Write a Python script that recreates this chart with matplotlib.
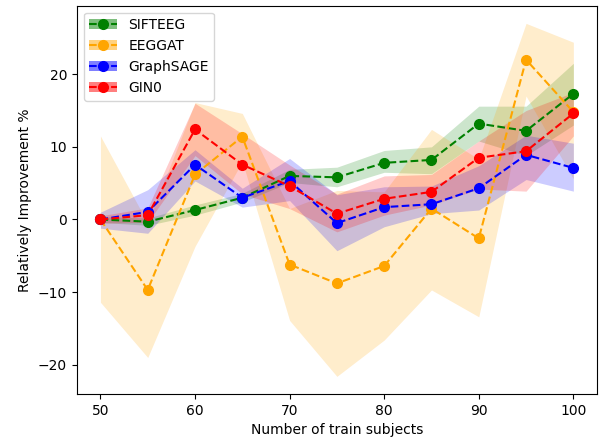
import matplotlib
matplotlib.use('Agg')
import matplotlib.pyplot as plt
from matplotlib.lines import Line2D
from matplotlib.patches import Patch

subjects = [50, 55, 60, 65, 70, 75, 80, 85, 90, 95, 100]

models = ['SIFTEEG', 'EEGGAT', 'GraphSAGE', 'GIN0']
colors = ['green', 'orange', 'blue', 'red']

sifteeg_mean = [0, -0.3, 1.3, 3.0, 6.0, 5.8, 7.8, 8.2, 13.2, 12.2, 17.3]
sifteeg_lo = [-0.4, -0.8, 0.6, 2.4, 5.1, 4.5, 6.5, 6.3, 10.8, 8.8, 13.0]
sifteeg_hi = [0.4, 0.2, 2.0, 3.6, 6.9, 7.2, 9.5, 10.0, 15.6, 15.6, 21.5]

eeggat_mean = [0, -9.7, 6.2, 11.4, -6.2, -8.8, -6.4, 1.5, -2.6, 22.0, 14.8]
eeggat_lo = [-11.4, -19.0, -3.7, 8.0, -13.9, -21.6, -16.6, -9.7, -13.4, 17.0, 5.6]
eeggat_hi = [11.5, -0.5, 16.1, 14.6, 1.5, 4.0, 3.8, 12.4, 8.3, 27.0, 24.4]

sage_mean = [0, 1.05, 7.55, 3.0, 5.3, -0.5, 1.7, 2.1, 4.3, 8.9, 7.1]
sage_lo = [-1.2, -1.9, 5.3, 1.7, 2.6, -4.3, -1.0, 0.8, 1.3, 5.5, 3.9]
sage_hi = [1.0, 4.1, 9.6, 4.3, 8.4, 3.4, 4.5, 4.6, 7.4, 11.6, 10.5]

gin_mean = [0, 0.6, 12.4, 7.55, 4.6, 0.8, 2.85, 3.8, 8.5, 9.4, 14.6]
gin_lo = [-0.5, -0.4, 8.8, 3.5, 1.5, -1.7, 0.6, 2.0, 4.2, 3.9, 11.5]
gin_hi = [0.5, 1.6, 16.0, 11.8, 7.5, 3.5, 6.0, 6.2, 10.8, 15.0, 17.5]

means = [sifteeg_mean, eeggat_mean, sage_mean, gin_mean]
lows = [sifteeg_lo, eeggat_lo, sage_lo, gin_lo]
highs = [sifteeg_hi, eeggat_hi, sage_hi, gin_hi]

fig, ax = plt.subplots(figsize=(6, 4.4), dpi=100)
fig.subplots_adjust(left=0.128, right=0.995, bottom=0.1045, top=0.987)

handles = []
for name, c, m, lo, hi in zip(models, colors, means, lows, highs):
    ax.fill_between(subjects, lo, hi, color=c, alpha=0.2, lw=0)
    ax.plot(subjects, m, '--o', color=c, ms=7, lw=1.5)
    handles.append((Patch(facecolor=c, alpha=0.5),
                    Line2D([], [], color=c, ls='--', marker='o', ms=7, lw=1.5)))

ax.set_xlabel('Number of train subjects')
ax.set_ylabel('Relatively Improvement %')
ax.legend(handles, models, loc='upper left')

fig.savefig('out.png', dpi=100)
